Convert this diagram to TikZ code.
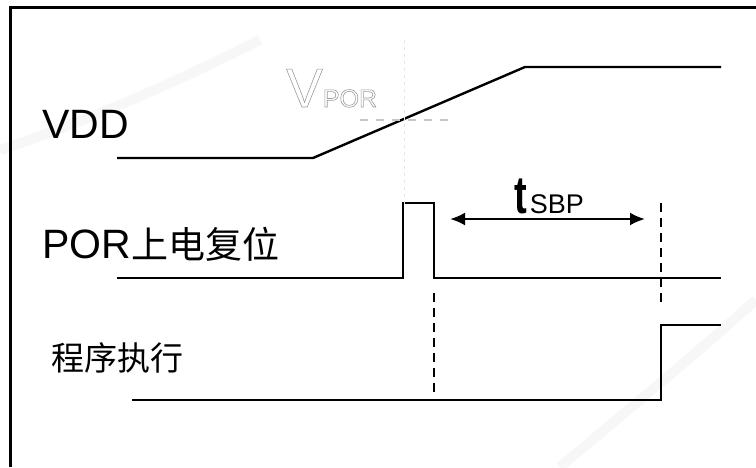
\documentclass[tikz,border=0pt]{standalone}
\usepackage{fontspec}
\setmainfont{Liberation Sans}
\newfontfamily\cjk{Noto Sans CJK SC}
\usetikzlibrary{arrows.meta}
\begin{document}
\begin{tikzpicture}[x=1pt,y=-1pt,
  sig/.style={line width=2.4pt, line join=miter},
  dsh/.style={line width=1.8pt, dash pattern=on 9pt off 6pt},
  lbl/.style={inner sep=0pt, anchor=base west},
  frame/.style={line width=3pt}]
\useasboundingbox (0,0) rectangle (756,467);
% background swooshes (faint)
\draw[gray!6, line width=10pt] (0,150) .. controls (60,130) and (140,100) .. (260,40);
\draw[gray!6, line width=10pt] (560,467) .. controls (640,400) and (700,350) .. (756,300);
% frame
\coordinate (f0) at (10,467);
\coordinate (f1) at (10,7);
\coordinate (f2) at (756,7);
\draw[frame] (f0) -- (f1) -- (f2);
% VDD signal
\coordinate (v0) at (117,158);
\coordinate (v1) at (313,158);
\coordinate (v2) at (525,67);
\coordinate (v3) at (721,67);
\draw[sig] (v0) -- (v1) -- (v2) -- (v3);
% POR signal
\coordinate (p0) at (117,278);
\coordinate (p1) at (403,278);
\coordinate (p2) at (403,203);
\coordinate (p3) at (434,203);
\coordinate (p4) at (434,278);
\coordinate (p5) at (721,278);
\draw[sig] (p0) -- (p1) -- (p2) -- (p3) -- (p4) -- (p5);
% program execution signal
\coordinate (e0) at (132,400);
\coordinate (e1) at (661,400);
\coordinate (e2) at (661,325);
\coordinate (e3) at (721,325);
\draw[sig] (e0) -- (e1) -- (e2) -- (e3);
% dashed markers
\coordinate (d1a) at (434,293);
\coordinate (d1b) at (434,395);
\coordinate (d2a) at (661,203);
\coordinate (d2b) at (661,303);
\draw[dsh] (d1a) -- (d1b);
\draw[dsh] (d2a) -- (d2b);
% VPOR threshold (faint)
\coordinate (g0) at (360,120);
\coordinate (g1) at (455,120);
\draw[gray!45, line width=1.6pt, dash pattern=on 8pt off 8pt] (g0) -- (g1);
\coordinate (h0) at (404,40);
\coordinate (h1) at (404,205);
\draw[gray!20, line width=0.8pt, dash pattern=on 3pt off 4pt] (h0) -- (h1);
% tSBP arrow
\coordinate (a0) at (450,219);
\coordinate (a1) at (645,219);
\draw[line width=2.4pt, {Latex[length=15pt,width=13pt]}-{Latex[length=15pt,width=13pt]}] (a0) -- (a1);
% labels
\node[lbl, font=\fontsize{41}{41}\selectfont] (vdd) at (42,138) {VDD};
\node[lbl, font=\fontsize{41}{41}\selectfont] (por) at (42,258) {POR{\cjk\fontsize{37}{37}\selectfont 上电复位}};
\node[lbl, font=\cjk\fontsize{33}{33}\selectfont] (prog) at (51,370) {程序执行};
\node[lbl] (tsbp) at (514,213) {\scalebox{0.72}[1]{\fontsize{53}{53}\selectfont\bfseries t}\kern3pt\fontsize{27}{27}\selectfont SBP};
\node[lbl, text=gray!80] (vpor) at (286,107) {\special{pdf:literal direct 1 Tr 0.6 w}\fontsize{55}{55}\selectfont V\fontsize{25}{25}\selectfont POR\special{pdf:literal direct 0 Tr}};
\end{tikzpicture}
\end{document}
